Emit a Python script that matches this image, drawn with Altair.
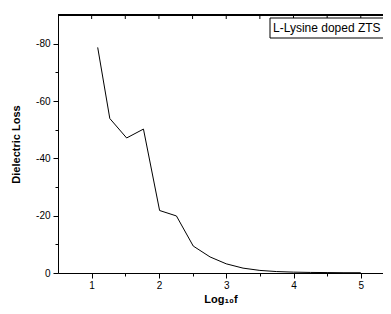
import altair as alt
import pandas as pd

log_f = [1.09, 1.27, 1.52, 1.77, 2.01, 2.26, 2.51, 2.76, 3.0, 3.25, 3.5, 3.75, 4.0, 4.25, 4.5, 4.75, 5.0]
loss = [-78.7, -53.9, -47.1, -50.2, -21.8, -19.9, -9.4, -5.6, -3.2, -1.7, -0.9, -0.5, -0.3, -0.2, -0.15, -0.1, -0.1]
series = "L-Lysine doped ZTS"

x_ticks = [1, 1.5, 2, 2.5, 3, 3.5, 4, 4.5, 5]
y_ticks = [0, -10, -20, -30, -40, -50, -60, -70, -80]

df = pd.DataFrame({"x": log_f, "y": loss})
tick_df = pd.DataFrame({"t": x_ticks})
label_df = pd.DataFrame({"s": [series]})

W, H = 325, 258
FONT = "Liberation Sans"

xscale = alt.Scale(domain=[0.5, 5.33], nice=False, zero=False)
yscale = alt.Scale(domain=[0, -90], nice=False, zero=False)

line = alt.Chart(df).mark_line(strokeWidth=1, color="black").encode(
    x=alt.X("x:Q", scale=xscale, title="Log₁₀f",
            axis=alt.Axis(values=x_ticks, grid=False, domainColor="black", tickColor="black",
                          tickSize={"condition": {"test": "datum.value % 1 !== 0", "value": 3}, "value": 5},
                          labelExpr="datum.value % 1 === 0 ? '' + datum.value : ''",
                          labelFont=FONT, labelFontSize=10, labelColor="black", labelPadding=2,
                          titleFont=FONT, titleFontSize=11, titleFontWeight="bold", titleColor="black",
                          titlePadding=3)),
    y=alt.Y("y:Q", scale=yscale, title="Dielectric Loss",
            axis=alt.Axis(values=y_ticks, grid=False, domainColor="black", tickColor="black",
                          tickSize={"condition": {"test": "datum.value % 20 !== 0", "value": 3}, "value": 5},
                          labelExpr="datum.value % 20 === 0 ? '' + datum.value : ''",
                          labelFont=FONT, labelFontSize=10, labelColor="black", labelPadding=3,
                          titleFont=FONT, titleFontSize=11, titleFontWeight="bold", titleColor="black",
                          titlePadding=14)),
)

top_line = alt.Chart(tick_df).mark_rule(color="black", strokeWidth=1).encode(
    x=alt.value(0), x2=alt.value(W), y=alt.value(0)
)
top_ticks = alt.Chart(tick_df).mark_rule(color="black", strokeWidth=1).encode(
    x=alt.X("t:Q", scale=xscale), y=alt.value(0), y2=alt.value(4)
)

legend_box = alt.Chart(label_df).mark_rect(fill="white", stroke="black", strokeWidth=1).encode(
    x=alt.value(212), x2=alt.value(W + 10), y=alt.value(3), y2=alt.value(23)
)
legend_text = alt.Chart(label_df).mark_text(
    align="left", baseline="middle", font=FONT, fontSize=12, color="black"
).encode(x=alt.value(215), y=alt.value(13), text="s:N")

chart = alt.layer(top_line, top_ticks, line, legend_box, legend_text).properties(
    width=W, height=H,
    autosize=alt.AutoSizeParams(type="none"),
    padding={"left": 50, "top": 7, "right": 0, "bottom": 32},
).configure_view(stroke=None).configure(background="white")

chart.save("out.html", embed_options={"renderer": "svg", "actions": False})
